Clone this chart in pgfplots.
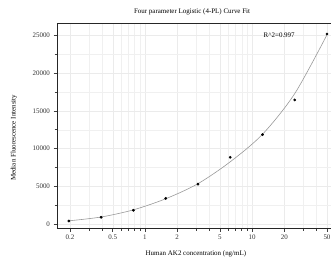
\documentclass[border=0pt]{standalone}
\usepackage{fontspec}
\setmainfont{Liberation Serif}
\usepackage{pgfplots}
\pgfplotsset{compat=1.18}
\begin{document}
\begin{tikzpicture}[x=1bp,y=1bp]
\begin{axis}[
  at={(0,0)}, anchor=south west,
  scale only axis, width=274bp, height=205bp,
  xmode=log, log basis x=10,
  xmin=0.151, xmax=54.5, ymin=-530, ymax=26660,
  axis x line=box, axis y line=left,
  y axis line style={-}, x axis line style={-},
  axis line style={black!85, line width=0.8pt},
  xtick pos=bottom, ytick pos=left,
  xtick={0.2,0.5,1,2,5,10,20,50},
  xticklabels={0.2,0.5,1,2,5,10,20,50},
  minor xtick={0.3,0.4,0.6,0.7,0.8,0.9,3,4,6,7,8,9,30,40},
  ytick={0,5000,10000,15000,20000,25000},
  minor ytick={2500,7500,12500,17500,22500},
  scaled y ticks=false,
  yticklabel style={/pgf/number format/1000 sep={}},
  /pgf/number format/assume math mode=true,
  tick align=outside,
  major tick length=3.5bp, minor tick length=2.5bp,
  tick style={black!75, line width=0.6pt},
  grid=both,
  major grid style={black!8, line width=0.4pt},
  minor grid style={black!6, line width=0.4pt},
  tick label style={font=\fontsize{7}{8}\selectfont, text=black!80},
  title={Four parameter Logistic (4-PL) Curve Fit},
  title style={at={(axis description cs:0.493,1)}, anchor=center, yshift=5bp, font=\fontsize{7}{8}\selectfont},
  xlabel={Human AK2 concentration (ng/mL)},
  xlabel style={at={(axis description cs:0.507,0)}, anchor=center, yshift=-26bp, font=\fontsize{7}{8}\selectfont},
  ylabel={Median Fluorescence Intensity},
  ylabel style={at={(axis description cs:0,0.44)}, anchor=center, yshift=43bp, font=\fontsize{7}{8}\selectfont},
  clip=false,
]
\addplot[gray!80, line width=0.6pt, smooth, no marks] coordinates {
  (0.195,420) (0.39,930) (0.78,1880) (1.5625,3350) (3.125,5350)
  (6.25,8250) (12.5,11900) (25,17300) (50,25100)
};
\addplot[only marks, mark=*, mark size=1.2bp, black] coordinates {
  (0.195,400) (0.39,890) (0.78,1820) (1.5625,3400) (3.125,5280)
  (6.25,8850) (12.5,11850) (25,16450) (50,25200)
};
\node[anchor=center, font=\fontsize{7}{8}\selectfont] at (axis cs:17.9,25000) {R\^{}2=0.997};
\end{axis}
\pgfresetboundingbox
\path (-57bp,-38bp) rectangle (275bp,228bp);
\end{tikzpicture}
\end{document}
